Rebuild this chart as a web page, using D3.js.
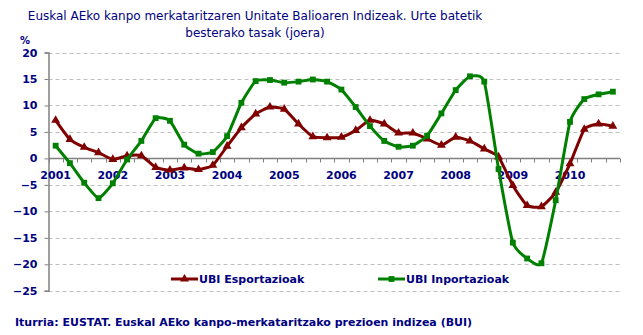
<!DOCTYPE html>
<html><head><meta charset="utf-8">
<script src="https://cdn.jsdelivr.net/npm/d3@7"></script>
<style>body{margin:0;background:#fff}svg{display:block}text{font-family:"DejaVu Sans",Verdana,sans-serif}</style>
</head><body><svg id="c" width="643" height="335"></svg>
<script>
const years = ["2001","2002","2003","2004","2005","2006","2007","2008","2009","2010"];
const quarters = ["I","II","III","IV"];
const yTicks = [20,15,10,5,0,-5,-10,-15,-20,-25];
const esportazioak = [7.2,3.6,2.1,1.1,-0.2,0.5,0.5,-1.7,-2.2,-1.8,-2.1,-1.3,2.3,5.8,8.4,9.7,9.3,6.5,4.1,3.9,
  4.0,5.3,7.2,6.5,4.8,4.8,3.7,2.5,4.0,3.3,1.8,0.3,-5.1,-8.9,-9.1,-6.4,-1.0,5.5,6.5,6.1];
const inportazioak = [2.4,-0.9,-4.6,-7.5,-4.7,-0.2,3.3,7.6,7.1,2.6,0.9,1.2,4.2,10.5,14.6,14.8,14.3,14.5,14.9,14.5,
  13.0,9.7,6.1,3.3,2.2,2.4,4.3,8.5,12.9,15.5,14.5,-2.0,-15.9,-18.9,-19.8,-7.9,6.9,11.2,12.1,12.6];
const seriesNames = ["UBI Esportazioak","UBI Inportazioak"];
const colors = ["#800000","#008000"];
const title = ["Euskal AEko kanpo merkataritzaren Unitate Balioaren Indizeak. Urte batetik","besterako tasak (joera)"];
const source = "Iturria: EUSTAT. Euskal AEko kanpo-merkataritzako prezioen indizea (BUI)";

const cats = [];
years.forEach(y => quarters.forEach(q => cats.push(y + " " + q)));

const svg = d3.select("#c");
const navy = "#000080";
const L = 48.5, R = 620, T = 52.5, B = 290.8;
const x = d3.scaleBand().domain(cats).range([L, R]);
const y = d3.scaleLinear().domain([-25, 20]).range([B, T]);
const cx = i => x(cats[i]) + x.bandwidth() / 2;

// title
svg.selectAll("text.title").data(title).join("text")
  .attr("x", 255).attr("y", (d, i) => 19.5 + i * 17)
  .attr("text-anchor", "middle").attr("fill", navy)
  .style("font-size", "12px").text(d => d);

svg.append("text").attr("x", 25).attr("y", 44).attr("text-anchor", "middle")
  .attr("fill", navy).style("font-size", "10px").style("font-weight", "bold").text("%");

// gridlines
svg.append("g").selectAll("line").data(yTicks.filter(v => v !== 0)).join("line")
  .attr("x1", L).attr("x2", R).attr("y1", d => Math.round(y(d)) + 0.5).attr("y2", d => Math.round(y(d)) + 0.5)
  .attr("stroke", "#c0c0c0").attr("stroke-dasharray", "4,3");

// y axis
const yAxis = d3.axisLeft(y).tickValues(yTicks).tickSize(4).tickPadding(7);
const gy = svg.append("g").attr("transform", `translate(${L},0)`).call(yAxis);
gy.select(".domain").attr("stroke", "#808080").attr("stroke-width", 1.5);
gy.selectAll(".tick line").attr("stroke", "#808080");
gy.selectAll(".tick text").attr("fill", navy).style("font-size", "11px").style("font-weight", "bold")
  .style("font-family", '"DejaVu Sans",Verdana,sans-serif');

// x axis at 0
const y0 = Math.round(y(0)) + 0.5;
const gx = svg.append("g").attr("transform", `translate(0,${y0})`);
gx.append("line").attr("x1", L).attr("x2", R).attr("stroke", "#808080").attr("stroke-width", 1.5);
const bounds = cats.map(c => x(c)).concat([R]);
gx.selectAll("line.t").data(bounds).join("line").attr("class", "t")
  .attr("x1", d => Math.round(d) + 0.5).attr("x2", d => Math.round(d) + 0.5).attr("y1", 0).attr("y2", 4)
  .attr("stroke", "#808080");
gx.selectAll("text").data(years).join("text")
  .attr("x", d => x(d + " I") + x.bandwidth() / 2).attr("y", 20)
  .attr("text-anchor", "middle").attr("fill", navy)
  .style("font-size", "11px").style("font-weight", "bold").text(d => d);

// lines
const data = [esportazioak, inportazioak];
const line = d3.line().x((d, i) => cx(i)).y(d => y(d)).curve(d3.curveCardinal.tension(0.5));
const tri = d3.symbol().type(d3.symbolTriangle).size(34);
const sq = d3.symbol().type(d3.symbolSquare).size(34);
data.forEach((vals, s) => {
  svg.append("path").datum(vals).attr("d", line).attr("fill", "none")
    .attr("stroke", colors[s]).attr("stroke-width", 3).attr("stroke-linejoin", "round");
  svg.append("g").selectAll("path").data(vals).join("path")
    .attr("transform", (d, i) => `translate(${cx(i)},${y(d)})`)
    .attr("d", s === 0 ? tri : sq).attr("fill", colors[s]);
});

// legend
const legX = [171, 378];
seriesNames.forEach((n, s) => {
  const g = svg.append("g");
  g.append("line").attr("x1", legX[s]).attr("x2", legX[s] + 27).attr("y1", 279).attr("y2", 279)
    .attr("stroke", colors[s]).attr("stroke-width", 3);
  g.append("path").attr("transform", `translate(${legX[s] + 13.5},279)`)
    .attr("d", s === 0 ? tri : sq).attr("fill", colors[s]);
  g.append("text").attr("x", legX[s] + 28).attr("y", 283).attr("fill", navy)
    .style("font-size", "11px").style("font-weight", "bold").text(n);
});

svg.append("text").attr("x", 15).attr("y", 326).attr("fill", navy)
  .style("font-size", "11px").style("font-weight", "bold").text(source);
</script></body></html>
